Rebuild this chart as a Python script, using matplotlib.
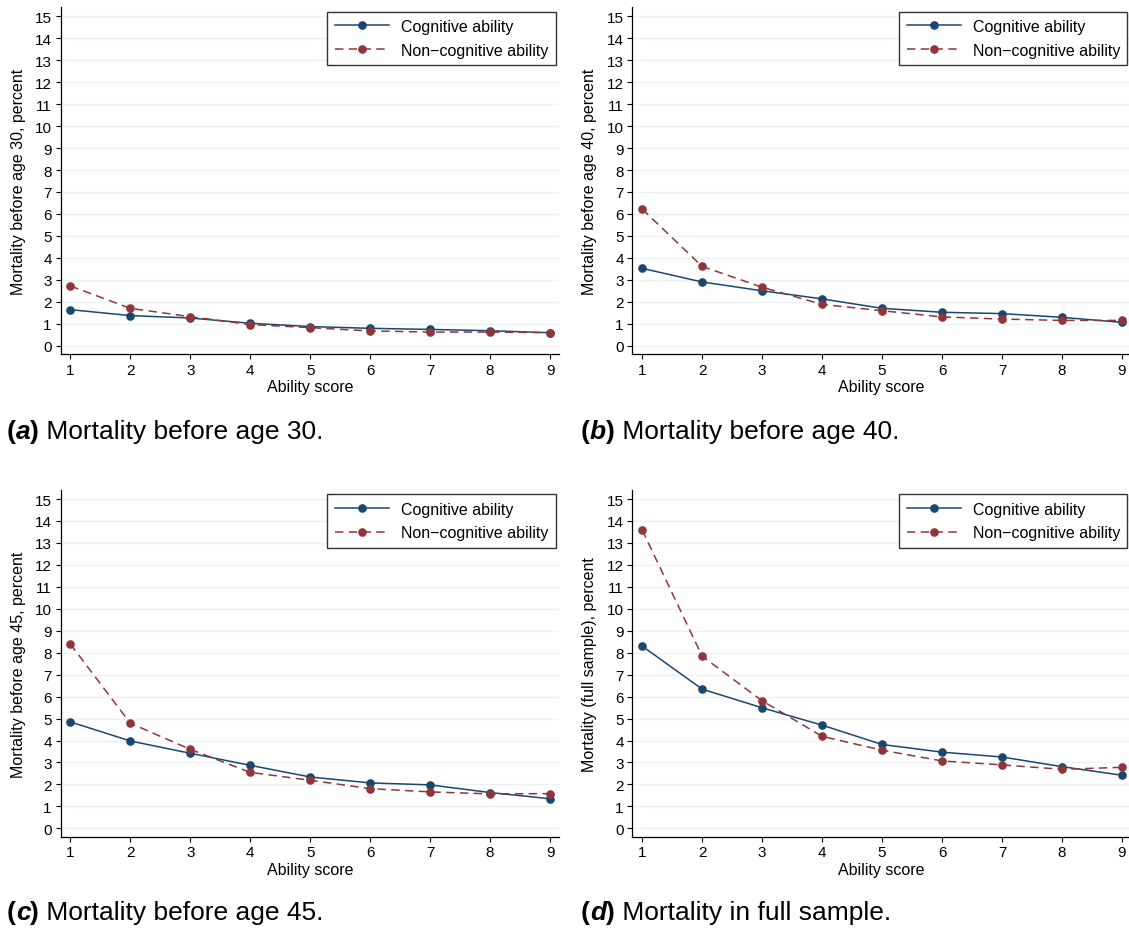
import matplotlib
matplotlib.use("Agg")
import matplotlib.pyplot as plt

plt.rcParams["font.family"] = ["Liberation Sans", "DejaVu Sans"]

# ability score on the x axis
scores = [1, 2, 3, 4, 5, 6, 7, 8, 9]

# mortality (percent)
cog_30 = [1.64, 1.37, 1.26, 1.02, 0.87, 0.79, 0.74, 0.68, 0.59]
noncog_30 = [2.72, 1.70, 1.32, 0.96, 0.82, 0.67, 0.62, 0.62, 0.59]

cog_40 = [3.52, 2.90, 2.50, 2.13, 1.70, 1.52, 1.46, 1.29, 1.06]
noncog_40 = [6.22, 3.61, 2.66, 1.88, 1.59, 1.31, 1.21, 1.15, 1.15]

cog_45 = [4.85, 3.98, 3.42, 2.87, 2.34, 2.07, 1.98, 1.63, 1.35]
noncog_45 = [8.40, 4.79, 3.60, 2.55, 2.19, 1.81, 1.66, 1.57, 1.58]

cog_full = [8.30, 6.34, 5.49, 4.70, 3.82, 3.47, 3.25, 2.81, 2.42]
noncog_full = [13.59, 7.84, 5.81, 4.19, 3.56, 3.07, 2.89, 2.69, 2.78]

y_labels = [
    "Mortality before age 30, percent",
    "Mortality before age 40, percent",
    "Mortality before age 45, percent",
    "Mortality (full sample), percent",
]
panel_letters = ["a", "b", "c", "d"]
captions = [
    " Mortality before age 30.",
    " Mortality before age 40.",
    " Mortality before age 45.",
    " Mortality in full sample.",
]
legend_labels = ["Cognitive ability", "Non\u2212cognitive ability"]

NAVY = "#1a476f"
MAROON = "#90353b"
GRID = "#eaf2f3"

W, H = 1129, 929
fig = plt.figure(figsize=(W / 100, H / 100), dpi=100)

# axes boxes in pixels: left, top
ax_w, ax_h = 498.7, 346.7
boxes = [(60.5, 8.3), (632.4, 8.3), (60.5, 491.0), (632.4, 491.0)]
caption_pos = [(7, 439), (581, 439), (7, 920), (581, 920)]


def plot_panel(ax, cog, noncog, ylabel):
    ax.plot(scores, cog, color=NAVY, lw=1.1, marker="o", ms=5.2,
            label=legend_labels[0], zorder=3)
    ax.plot(scores, noncog, color=MAROON, lw=1.1, ls=(0, (5.5, 3.5)),
            marker="o", ms=5.2, label=legend_labels[1], zorder=4)

    ax.set_xlim(0.837, 9.152)
    ax.set_ylim(-0.38, 15.41)
    ax.set_xticks(scores)
    ax.set_yticks(range(0, 16))
    for y in range(0, 16):
        ax.axhline(y, color=GRID, lw=1.0, zorder=1)

    for side in ("top", "right"):
        ax.spines[side].set_visible(False)
    for side in ("left", "bottom"):
        ax.spines[side].set_linewidth(0.9)
        ax.spines[side].set_color("black")
    ax.tick_params(length=3.8, width=0.8, labelsize=11, pad=2.5)

    ax.set_ylabel(ylabel, fontsize=11.5)
    ax.yaxis.set_label_coords(-0.070, 0.5)
    ax.set_xlabel("Ability score", fontsize=11.5)
    ax.xaxis.set_label_coords(0.5, -0.073)

    leg = ax.legend(loc="upper right", bbox_to_anchor=(0.9926, 0.9873),
                    borderaxespad=0, fontsize=11.5, handlelength=3.4,
                    handletextpad=0.75, labelspacing=0.55, borderpad=0.45,
                    fancybox=False, framealpha=1)
    leg.get_frame().set_edgecolor("#333333")
    leg.get_frame().set_linewidth(1.0)


def caption(ax, px, py, letter, text):
    size = 19
    t1 = fig.text(px / W, 1 - py / H, "(", fontsize=size, weight="bold",
                  va="baseline")
    t2 = ax.annotate(letter, xy=(1, 0), xycoords=t1, fontsize=size,
                     weight="bold", style="italic", va="bottom",
                     annotation_clip=False)
    t3 = ax.annotate(")", xy=(1, 0), xycoords=t2, fontsize=size,
                     weight="bold", va="bottom", annotation_clip=False)
    ax.annotate(text, xy=(1, 0), xycoords=t3, fontsize=size, va="bottom",
                annotation_clip=False)


series = [(cog_30, noncog_30), (cog_40, noncog_40),
          (cog_45, noncog_45), (cog_full, noncog_full)]

for i, (cog, noncog) in enumerate(series):
    left, top = boxes[i]
    ax = fig.add_axes([left / W, 1 - (top + ax_h) / H, ax_w / W, ax_h / H])
    plot_panel(ax, cog, noncog, y_labels[i])
    cx, cy = caption_pos[i]
    caption(ax, cx, cy, panel_letters[i], captions[i])

fig.savefig("out.png", dpi=100, facecolor="white")
